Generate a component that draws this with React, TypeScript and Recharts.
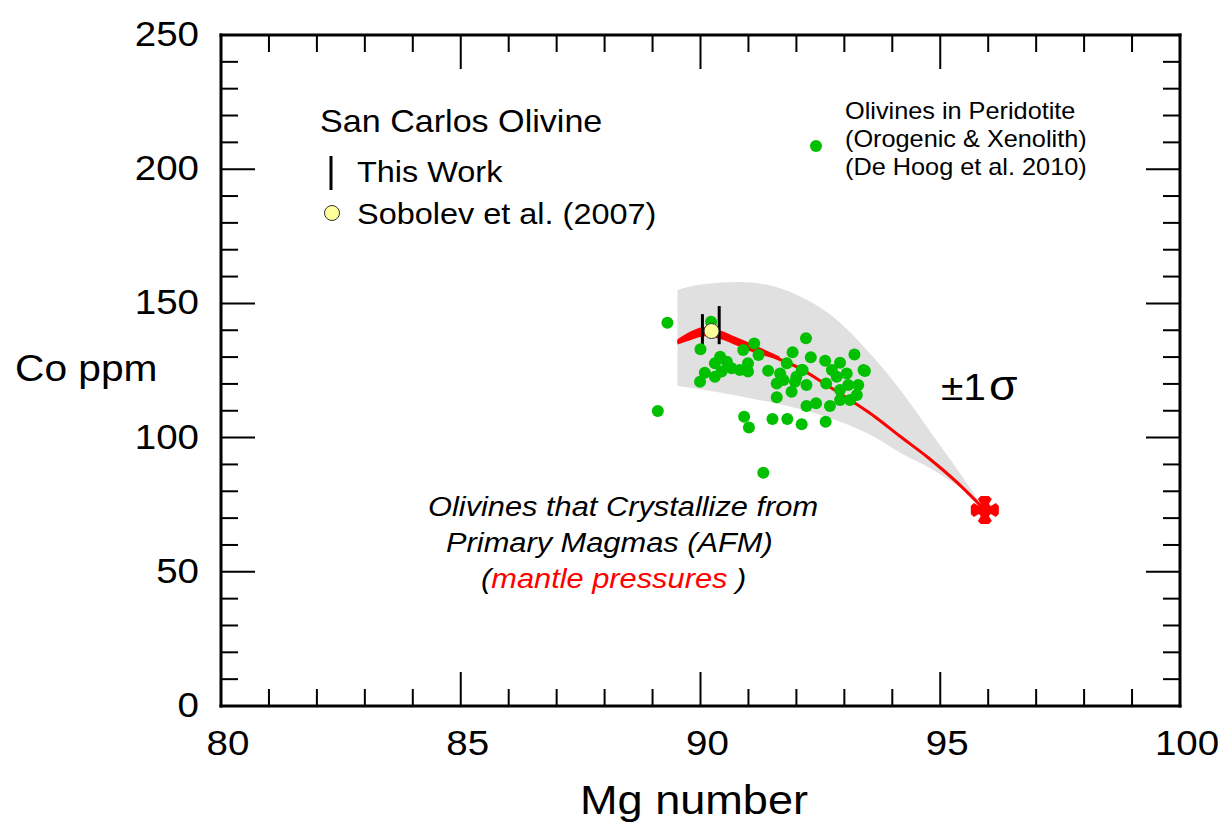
import React from 'react';
import {
  ComposedChart,
  XAxis,
  YAxis,
  Area,
  Line,
  Scatter,
  ReferenceLine,
  Customized,
} from 'recharts';

const FONT = '"Liberation Sans", Arial, Helvetica, sans-serif';
const STRETCH = 1.1;

// Axis ticks: minor every 1 Mg# / 10 ppm, labelled every 5 Mg# / 50 ppm
const mgTicks = [80, 81, 82, 83, 84, 85, 86, 87, 88, 89, 90, 91, 92, 93, 94, 95, 96, 97, 98, 99, 100];
const mgLabelled = [80, 85, 90, 95, 100];
const coTicks = [0, 10, 20, 30, 40, 50, 60, 70, 80, 90, 100, 110, 120, 130, 140, 150, 160, 170, 180, 190, 200, 210, 220, 230, 240, 250];
const coLabelled = [0, 50, 100, 150, 200, 250];

// Olivines in peridotite (De Hoog et al. 2010)
const peridotiteMg = [
  89.31, 89.11, 90.22, 90.0, 90.41, 90.3, 90.55, 90.65, 90.44, 90.09, 89.99, 90.3, 90.82, 90.99, 90.89,
  91.12, 91.21, 90.99, 91.41, 91.59, 91.59, 90.91, 91.01, 91.5, 91.31, 92.2, 91.92, 92.3, 92.6, 92.91,
  93.21, 93.4, 91.8, 92.11, 91.66, 91.97, 92.21, 91.9, 92.21, 92.41, 92.7, 92.91, 93.12, 93.26, 93.29,
  93.08, 92.84, 92.74, 93.05, 91.81, 92.11, 92.61, 92.91, 93.43, 92.0, 92.13, 91.73, 92.62,
];
const peridotiteCo = [
  142.8, 109.9, 143.2, 132.9, 130.1, 127.7, 128.3, 125.8, 124.6, 124.2, 120.8, 122.7, 125.2, 127.7, 132.6,
  135.1, 130.8, 124.6, 124.9, 120.2, 115.0, 107.8, 103.8, 106.9, 86.9, 137.0, 131.8, 129.9, 128.6, 127.9,
  131.0, 125.2, 127.7, 125.2, 123.9, 120.8, 119.6, 117.1, 111.8, 112.8, 111.8, 114.0, 114.0, 115.9, 119.6,
  119.6, 122.7, 125.2, 123.9, 106.9, 105.0, 105.9, 117.7, 124.8, 122.7, 125.2, 121.5, 120.2,
];

// ±1σ envelope around the primary-magma olivine trend
const bandMg = [89.52, 90.0, 90.8, 91.5, 92.2, 92.9, 93.6, 94.2, 94.8, 95.4, 95.93];
const bandLow = [119.2, 118.0, 115.5, 113.0, 110.0, 106.0, 100.5, 94.0, 88.5, 81.5, 73.0];
const bandHigh = [155.0, 157.0, 158.0, 156.5, 151.5, 143.0, 130.0, 117.0, 102.0, 87.0, 73.0];

// Olivines crystallizing from primary magmas (AFM), mantle pressures
const afmMg = [89.52, 89.85, 90.22, 90.55, 91.03, 91.5, 92.07, 92.6, 93.12, 93.65, 94.16, 94.75, 95.35, 95.93];
const afmCo = [135.6, 138.2, 139.5, 137.4, 133.9, 130.3, 125.8, 120.0, 114.0, 107.6, 100.5, 92.5, 83.3, 73.0];

// Thicker start of the AFM trend (spread of the pressure runs)
const wedgeMg = [89.52, 89.8, 90.1, 90.4, 90.75, 91.15, 91.65];
const wedgeLow = [134.7, 136.4, 137.8, 136.8, 134.3, 131.4, 129.0];
const wedgeHigh = [136.6, 139.6, 141.2, 140.0, 137.4, 134.3, 130.2];

// San Carlos olivine: this work (ranges) and Sobolev et al. (2007)
const thisWorkMg = [90.04, 90.39];
const thisWorkLow = [131.6, 134.8];
const thisWorkHigh = [146.0, 149.0];
const sobolevMg = [90.23];
const sobolevCo = [139.7];

// Primary mantle end-member
const endMemberMg = [95.93];
const endMemberCo = [73.0];

const peridotite = peridotiteMg.map((x, i) => ({ x, co: peridotiteCo[i] }));
const bandRows = bandMg.map((x, i) => ({ x, range: [bandLow[i], bandHigh[i]] }));
const wedgeRows = wedgeMg.map((x, i) => ({ x, range: [wedgeLow[i], wedgeHigh[i]] }));
const afmRows = afmMg.map((x, i) => ({ x, co: afmCo[i] }));
const sobolev = sobolevMg.map((x, i) => ({ x, co: sobolevCo[i] }));
const endMember = endMemberMg.map((x, i) => ({ x, co: endMemberCo[i] }));

type STextProps = {
  x: number;
  y: number;
  size: number;
  anchor?: 'start' | 'middle' | 'end';
  fill?: string;
  italic?: boolean;
  children?: React.ReactNode;
};

function SText({ x, y, size, anchor = 'start', fill = '#000', italic = false, children }: STextProps) {
  return (
    <text
      transform={`translate(${x},${y}) scale(${STRETCH},1)`}
      fontFamily={FONT}
      fontSize={size}
      textAnchor={anchor}
      fill={fill}
      fontStyle={italic ? 'italic' : 'normal'}
    >
      {children}
    </text>
  );
}

const MAJOR = 34;
const MINOR = 17;

function BottomTick(props: any) {
  const { x, y, payload } = props;
  const v = payload.value;
  const major = mgLabelled.includes(v);
  const edge = v === 80 || v === 100;
  return (
    <g>
      {!edge && <line x1={x} x2={x} y1={y} y2={y - (major ? MAJOR : MINOR)} stroke="#000" strokeWidth={2} />}
      {major && (
        <SText x={x + 7} y={y + 49} size={35} anchor="middle">
          {v}
        </SText>
      )}
    </g>
  );
}

function TopTick(props: any) {
  const { x, y, payload } = props;
  const v = payload.value;
  const major = mgLabelled.includes(v);
  if (v === 80 || v === 100) return <g />;
  return <line x1={x} x2={x} y1={y} y2={y + (major ? MAJOR : MINOR)} stroke="#000" strokeWidth={2} />;
}

function LeftTick(props: any) {
  const { x, y, payload } = props;
  const v = payload.value;
  const major = coLabelled.includes(v);
  const edge = v === 0 || v === 250;
  return (
    <g>
      {!edge && <line x1={x} x2={x + (major ? MAJOR : MINOR)} y1={y} y2={y} stroke="#000" strokeWidth={2} />}
      {major && (
        <SText x={x - 22} y={y + 11} size={35} anchor="end">
          {v}
        </SText>
      )}
    </g>
  );
}

function RightTick(props: any) {
  const { x, y, payload } = props;
  const v = payload.value;
  const major = coLabelled.includes(v);
  if (v === 0 || v === 250) return <g />;
  return <line x1={x} x2={x - (major ? MAJOR : MINOR)} y1={y} y2={y} stroke="#000" strokeWidth={2} />;
}

const GreenDot = (props: any) => <circle cx={props.cx} cy={props.cy} r={6} fill="#00c000" />;
const YellowDot = (props: any) => (
  <circle cx={props.cx} cy={props.cy} r={7.5} fill="#ffff99" stroke="#333" strokeWidth={1} />
);
const RedCross = (props: any) => {
  const { cx, cy } = props;
  const pts = [
    [-4, -6], [-7, -11], [-4, -14], [4, -14], [7, -11], [4, -6],
    [6, -4], [11, -7], [14, -4], [14, 4], [11, 7], [6, 4],
    [4, 6], [7, 11], [4, 14], [-4, 14], [-7, 11], [-4, 6],
    [-6, 4], [-11, 7], [-14, 4], [-14, -4], [-11, -7], [-6, -4],
  ];
  const d = pts.map((p, i) => `${i === 0 ? 'M' : 'L'}${cx + p[0]},${cy + p[1]}`).join(' ') + ' Z';
  return <path d={d} fill="#ff0000" />;
};

function Annotations() {
  return (
    <g>
      {/* axis titles */}
      <SText x={15} y={381} size={37}>Co ppm</SText>
      <SText x={694} y={814} size={41} anchor="middle">Mg number</SText>

      {/* San Carlos olivine key */}
      <SText x={320} y={132} size={31}>San Carlos Olivine</SText>
      <line x1={331} x2={331} y1={156} y2={190} stroke="#000" strokeWidth={3} />
      <SText x={357} y={182} size={29.5}>This Work</SText>
      <circle cx={332} cy={213} r={7.5} fill="#ffff99" stroke="#333" strokeWidth={1} />
      <SText x={357} y={224} size={29.5}>Sobolev et al. (2007)</SText>

      {/* peridotite key */}
      <circle cx={816} cy={146} r={6} fill="#00c000" />
      <SText x={845} y={119} size={23}>Olivines in Peridotite</SText>
      <SText x={845} y={147} size={23}>(Orogenic &amp; Xenolith)</SText>
      <SText x={845} y={175} size={23}>(De Hoog et al. 2010)</SText>

      {/* envelope label */}
      <SText x={941} y={400} size={37}>±1</SText>
      <SText x={989} y={400} size={42}>σ</SText>

      {/* AFM trend label */}
      <SText x={428} y={516} size={28} italic>Olivines that Crystallize from</SText>
      <SText x={446} y={552} size={28} italic>Primary Magmas (AFM)</SText>
      <SText x={481} y={588} size={28} italic>
        <tspan>(</tspan>
        <tspan fill="#ff0000">mantle pressures</tspan>
        <tspan> )</tspan>
      </SText>
    </g>
  );
}

const frame = { stroke: '#000', strokeWidth: 3, strokeLinecap: 'square' as const };

export default function App() {
  return (
    <div style={{ position: 'absolute', left: 0, top: 0, background: '#fff' }}>
      <ComposedChart width={1228} height={832} margin={{ top: 25, right: 38, bottom: 66, left: 121 }}>
        <XAxis
          xAxisId="x"
          dataKey="x"
          type="number"
          domain={[80, 100]}
          ticks={mgTicks}
          interval={0}
          allowDataOverflow
          height={60}
          tickSize={0}
          tickMargin={0}
          tickLine={false}
          axisLine={frame}
          tick={<BottomTick />}
        />
        <XAxis
          xAxisId="xTop"
          dataKey="x"
          orientation="top"
          type="number"
          domain={[80, 100]}
          ticks={mgTicks}
          interval={0}
          allowDataOverflow
          height={10}
          tickSize={0}
          tickMargin={0}
          tickLine={false}
          axisLine={frame}
          tick={<TopTick />}
        />
        <YAxis
          yAxisId="y"
          dataKey="co"
          type="number"
          domain={[0, 250]}
          ticks={coTicks}
          interval={0}
          allowDataOverflow
          width={100}
          tickSize={0}
          tickMargin={0}
          tickLine={false}
          axisLine={frame}
          tick={<LeftTick />}
        />
        <YAxis
          yAxisId="yRight"
          dataKey="co"
          orientation="right"
          type="number"
          domain={[0, 250]}
          ticks={coTicks}
          interval={0}
          allowDataOverflow
          width={10}
          tickSize={0}
          tickMargin={0}
          tickLine={false}
          axisLine={frame}
          tick={<RightTick />}
        />

        <Area
          xAxisId="x"
          yAxisId="y"
          data={bandRows}
          dataKey="range"
          type="monotone"
          fill="#e0e0e0"
          fillOpacity={1}
          stroke="none"
          isAnimationActive={false}
        />
        <Scatter
          xAxisId="x"
          yAxisId="y"
          data={peridotite}
          dataKey="co"
          shape={<GreenDot />}
          isAnimationActive={false}
        />
        <Area
          xAxisId="x"
          yAxisId="y"
          data={wedgeRows}
          dataKey="range"
          type="monotone"
          fill="#ff0000"
          fillOpacity={1}
          stroke="none"
          isAnimationActive={false}
        />
        <Line
          xAxisId="x"
          yAxisId="y"
          data={afmRows}
          dataKey="co"
          type="monotone"
          stroke="#ff0000"
          strokeWidth={3}
          dot={false}
          isAnimationActive={false}
        />
        <Scatter
          xAxisId="x"
          yAxisId="y"
          data={sobolev}
          dataKey="co"
          shape={<YellowDot />}
          isAnimationActive={false}
        />
        {thisWorkMg.map((mg, i) => (
          <ReferenceLine
            key={`tw-${i}`}
            xAxisId="x"
            yAxisId="y"
            segment={[
              { x: mg, y: thisWorkLow[i] },
              { x: mg, y: thisWorkHigh[i] },
            ]}
            stroke="#000"
            strokeWidth={3}
          />
        ))}
        <Scatter
          xAxisId="x"
          yAxisId="y"
          data={endMember}
          dataKey="co"
          shape={<RedCross />}
          isAnimationActive={false}
        />
        <Customized component={<Annotations />} />
      </ComposedChart>
    </div>
  );
}
